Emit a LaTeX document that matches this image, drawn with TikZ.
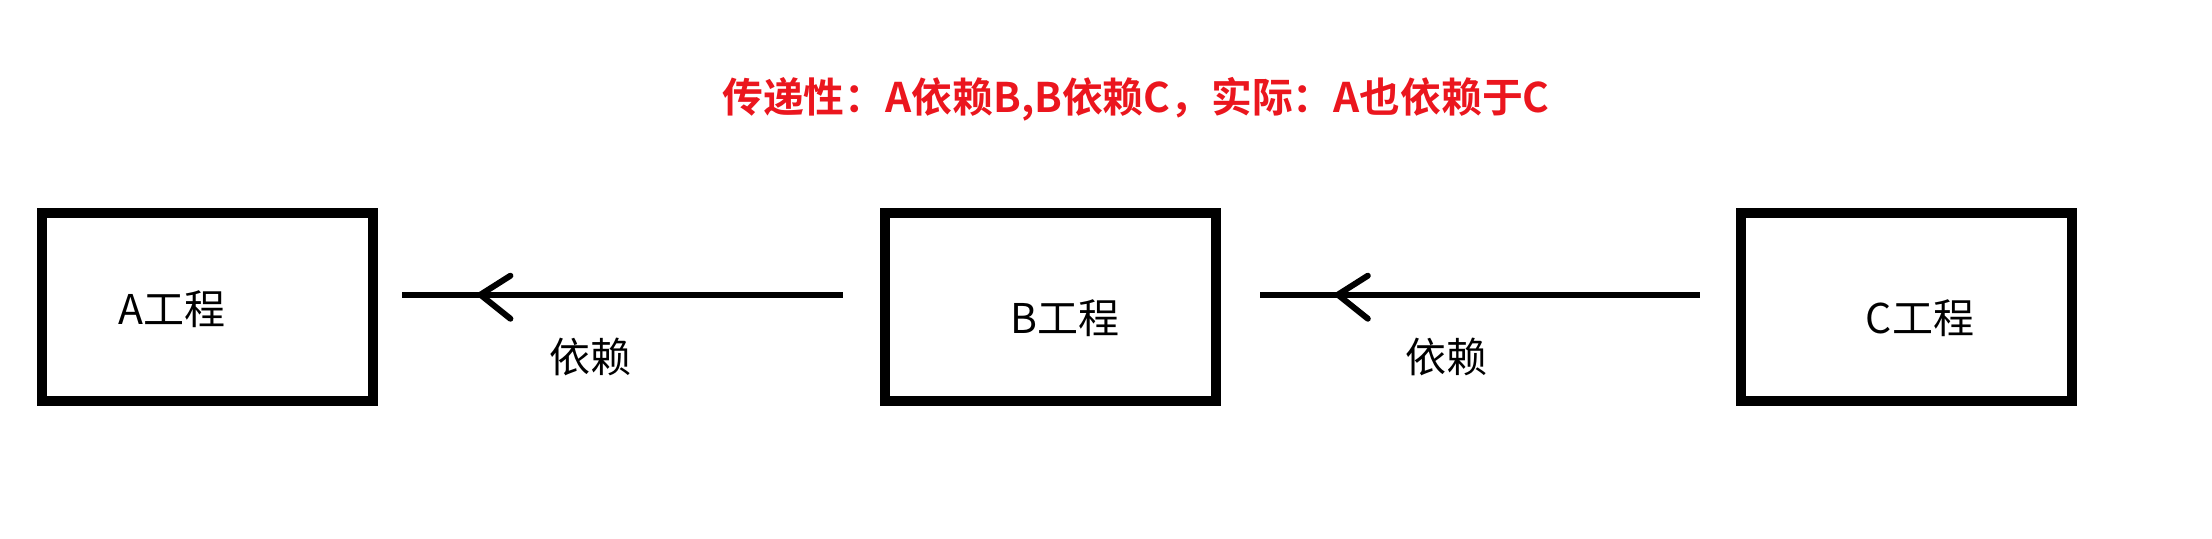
\documentclass[tikz,border=0pt]{standalone}
\usepackage{fontspec}
\newfontfamily\cjk{Noto Sans CJK SC}[BoldFont={Noto Sans CJK SC Bold}]
\usetikzlibrary{calc,decorations.markings}
\definecolor{titlered}{RGB}{235,22,30}
\tikzset{
  projbox/.style={draw=black, line width=5pt, minimum width=165.5pt, minimum height=94pt, inner sep=0pt, fill=white},
  projlabel/.style={font=\cjk\fontsize{20.5pt}{24pt}\selectfont, inner sep=0pt, anchor=center},
  deplabel/.style={font=\cjk\fontsize{20.5pt}{24pt}\selectfont, inner sep=0pt, anchor=center},
  titletext/.style={font=\cjk\bfseries\fontsize{20.4pt}{24pt}\selectfont, text=titlered, inner sep=0pt},
  deparrow/.style={line width=3pt, decoration={markings, mark=at position 0.822 with {\draw[line width=3pt, line cap=round, line join=miter] (-15pt,-9.5pt) -- (0pt,0pt) -- (-15pt,12pt);}}, postaction={decorate}}
}
\begin{document}
\begin{tikzpicture}[x=0.5pt,y=-0.5pt]
\useasboundingbox (0,0) rectangle (2212,538);
\fill[white] (0,0) rectangle (2212,538);
\node[titletext] (title) at (1136,99) {传递性：A依赖B,B依赖C，实际：A也依赖于C};
\node[projbox] (boxA) at (207.5,307) {};
\node[projbox] (boxB) at (1050,307) {};
\node[projbox] (boxC) at (1906,307) {};
\node[projlabel] (labA) at (172,309) {A工程};
\node[projlabel] (labB) at (1065,318) {B工程};
\node[projlabel] (labC) at (1920,318) {C工程};
\coordinate (a1s) at ($(boxB.west)+(-37,-12.3)$);
\coordinate (a1e) at ($(boxA.east)+(24,-12.3)$);
\coordinate (a2s) at ($(boxC.west)+(-36,-12.3)$);
\coordinate (a2e) at ($(boxB.east)+(39,-12.3)$);
\draw[deparrow] (a1s) -- (a1e);
\draw[deparrow] (a2s) -- (a2e);
\node[deplabel] (dep1) at (590,357) {依赖};
\node[deplabel] (dep2) at (1446,357) {依赖};
\end{tikzpicture}
\end{document}
